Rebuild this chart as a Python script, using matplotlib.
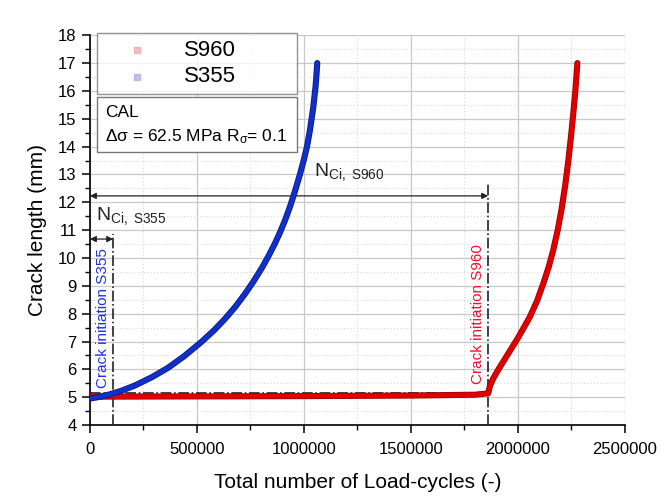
import numpy as np
import matplotlib
matplotlib.use("Agg")
import matplotlib.pyplot as plt
import matplotlib.patheffects as pe
from matplotlib.patches import Rectangle
from matplotlib.ticker import MultipleLocator

plt.rcParams['font.family'] = ['Liberation Sans', 'DejaVu Sans']
plt.rcParams['mathtext.fontset'] = 'custom'
plt.rcParams['mathtext.rm'] = 'Liberation Sans'
plt.rcParams['mathtext.it'] = 'Liberation Sans'

# S355 crack growth (cycles, crack length mm)
s355_n = [0, 50000, 101000, 150000, 210000, 290000, 366000, 440000, 522000,
          580000, 631000, 680000, 725000, 765000, 803000, 835000, 865000,
          890000, 912000, 935000, 958000, 980000, 1000000, 1015000, 1029000,
          1044000, 1055000, 1059000, 1063000]
s355_a = [4.95, 5.02, 5.12, 5.24, 5.42, 5.72, 6.06, 6.47, 6.99,
          7.40, 7.81, 8.25, 8.71, 9.16, 9.63, 10.07, 10.52,
          10.94, 11.35, 11.83, 12.38, 12.95, 13.52, 14.0, 14.6,
          15.4, 16.15, 16.55, 17.0]

# S960 crack growth
s960_n = [0, 500000, 1000000, 1500000, 1800000, 1862000, 1870000, 1886000,
          1910000, 1932000, 1960000, 1995000, 2025000, 2057000, 2090000,
          2120000, 2145000, 2166000, 2187000, 2205000, 2222000, 2236000,
          2249000, 2260000, 2270000, 2279000]
s960_a = [5.02, 5.03, 5.04, 5.06, 5.09, 5.14, 5.40, 5.68,
          6.00, 6.27, 6.62, 7.05, 7.45, 7.89, 8.45,
          9.09, 9.68, 10.28, 11.00, 11.75, 12.60, 13.45,
          14.35, 15.20, 16.05, 17.00]

n_ci_s355 = 109000
n_ci_s960 = 1862000
a_ci = 5.16

fig = plt.figure(figsize=(6.61, 4.96), dpi=100)
ax = fig.add_axes([0.136, 0.143, 0.809, 0.786])

ax.set_xlim(0, 2500000)
ax.set_ylim(4, 18)
ax.xaxis.set_major_locator(MultipleLocator(500000))
ax.xaxis.set_minor_locator(MultipleLocator(250000))
ax.yaxis.set_major_locator(MultipleLocator(1))
ax.yaxis.set_minor_locator(MultipleLocator(0.5))
ax.ticklabel_format(style='plain', axis='x', useOffset=False)
ax.grid(which='major', color='#c8c8c8', lw=0.9, ls='-')
ax.grid(which='minor', color='#d8d8d8', lw=0.8, ls=(0, (1, 2)))
ax.set_axisbelow(True)
for s in ['top', 'right']:
    ax.spines[s].set_visible(False)
for s in ['left', 'bottom']:
    ax.spines[s].set_linewidth(1.2)
ax.tick_params(which='major', direction='out', length=6, width=1.1, labelsize=12)
ax.tick_params(axis='x', which='major', pad=6)
ax.tick_params(which='minor', direction='out', length=3.5, width=1.0)

ax.set_xlabel('Total number of Load-cycles (-)', fontsize=15, labelpad=12)
ax.set_ylabel('Crack length (mm)', fontsize=15, labelpad=8)

# reference lines
ax.plot([0, n_ci_s960], [a_ci, a_ci], color='#222222', lw=1.2, ls='-.', zorder=3)
ax.plot([n_ci_s355, n_ci_s355], [4, 10.85], color='#222222', lw=1.2, ls='-.', zorder=3)
ax.plot([n_ci_s960, n_ci_s960], [4, 12.68], color='#222222', lw=1.2, ls='-.', zorder=3)

# curves
ax.plot(s960_n, s960_a, color='#e00000', lw=3.2, solid_capstyle='round',
        solid_joinstyle='round', zorder=4,
        path_effects=[pe.Stroke(linewidth=4.4, foreground='#a00000'), pe.Normal()])
ax.plot(s355_n, s355_a, color='#1030c8', lw=3.2, solid_capstyle='round',
        solid_joinstyle='round', zorder=5,
        path_effects=[pe.Stroke(linewidth=4.4, foreground='#0a1a80'), pe.Normal()])

# legend
h1 = ax.scatter([], [], marker='s', s=16, color='#f4a0a8', alpha=0.7, label='S960')
h2 = ax.scatter([], [], marker='s', s=16, color='#a8a8e8', alpha=0.7, label='S355')
leg = ax.legend(handles=[h1, h2], loc='upper left', mode='expand',
                bbox_to_anchor=(0.013, 0.851, 0.374, 0.154),
                fontsize=16, frameon=True, fancybox=False, edgecolor='#777777',
                handletextpad=0.6, borderpad=0.3, labelspacing=0.25, handlelength=3.0,
                borderaxespad=0.0)
leg.get_frame().set_linewidth(1.0)

# info box
ax.add_patch(Rectangle((0.013, 0.700), 0.374, 0.141, transform=ax.transAxes,
                       fc='white', ec='#777777', lw=1.0, zorder=6))
ax.text(0.028, 0.803, 'CAL', transform=ax.transAxes, fontsize=12.5,
        va='center', ha='left', zorder=7)
ax.text(0.028, 0.741, '$\\Delta\\sigma$ = 62.5 MPa R$_{\\sigma}$= 0.1',
        transform=ax.transAxes, fontsize=12.5, va='center', ha='left', zorder=7)

# arrows
ax.annotate('', xy=(0, 12.23), xytext=(n_ci_s960, 12.23),
            arrowprops=dict(arrowstyle='<|-|>', color='#222222', lw=0.9,
                            mutation_scale=9, shrinkA=0, shrinkB=0))
ax.annotate('', xy=(0, 10.68), xytext=(n_ci_s355, 10.68),
            arrowprops=dict(arrowstyle='<|-|>', color='#222222', lw=0.9,
                            mutation_scale=9, shrinkA=0, shrinkB=0))

ax.text(1050000, 12.7, 'N$_{\\mathrm{Ci,\\ S960}}$', fontsize=14, color='#222222',
        ha='left', va='bottom')
ax.text(28000, 11.1, 'N$_{\\mathrm{Ci,\\ S355}}$', fontsize=14, color='#222222',
        ha='left', va='bottom')

ax.text(62000, 7.85, 'Crack initiation S355', rotation=90, color='#2030e0',
        fontsize=11, ha='center', va='center')
ax.text(1814000, 8.0, 'Crack initiation S960', rotation=90, color='#f01030',
        fontsize=11, ha='center', va='center')

fig.savefig('out.png', dpi=100)
